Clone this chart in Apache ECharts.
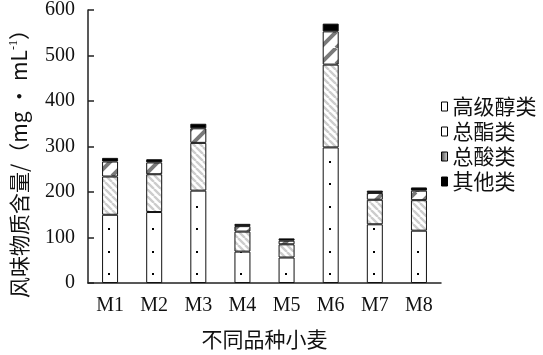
<!DOCTYPE html>
<html>
<head>
<meta charset="utf-8">
<script src="https://cdn.jsdelivr.net/npm/echarts@6/dist/echarts.min.js"></script>
<style>html,body{margin:0;padding:0;background:#fff}#c{width:543px;height:355px}</style>
</head>
<body>
<div id="c"></div>
<script>
const categories = ['M1','M2','M3','M4','M5','M6','M7','M8'];
const seriesNames = ['高级醇类','总酯类','总酸类','其他类'];
const alcohols = [150, 156, 203, 69, 56, 298, 129, 115];
const esters   = [84, 83, 105, 44, 29, 182, 54, 67];
const acids    = [33, 26, 32, 12, 8, 73, 15, 21];
const others   = [8, 7, 10, 5, 5, 17, 5, 7];
const yTicks = [0, 100, 200, 300, 400, 500, 600];

const W = 543, H = 355;
const GL = 87, GR = 102, GT = 10, GB = 69;
const serif = '"Liberation Serif","DejaVu Serif",serif';
const cjk = '"Noto Sans CJK SC","Liberation Serif",sans-serif';

// dot pattern (full-canvas, dots centred on each category)
function dotPattern() {
  const c = document.createElement('canvas'); c.width = W; c.height = H;
  const g = c.getContext('2d');
  g.fillStyle = '#fff'; g.fillRect(0, 0, W, H);
  g.fillStyle = '#000';
  const cw = (W - GL - GR) / categories.length;
  const base = H - GB;
  for (let i = 0; i < categories.length; i++) {
    const cx = GL + (i + 0.5) * cw;
    for (let k = 0; k < 14; k++) {
      const y = base - 12 - 22.4 * k;
      g.fillRect(Math.round(cx - 1.5), Math.round(y - 1), 2, 2);
    }
  }
  return {image: c, repeat: 'no-repeat'};
}
function stripePattern(size, lw, color, dir) {
  const c = document.createElement('canvas'); c.width = size; c.height = size;
  const g = c.getContext('2d');
  g.fillStyle = '#fff'; g.fillRect(0, 0, size, size);
  g.strokeStyle = color; g.lineWidth = lw;
  g.beginPath();
  for (let o = -size; o <= size; o += size) {
    if (dir === '\\') { g.moveTo(o, 0); g.lineTo(o + size, size); }
    else { g.moveTo(o, size); g.lineTo(o + size, 0); }
  }
  g.stroke();
  return {image: c, repeat: 'repeat'};
}

const fills = [
  dotPattern(),
  stripePattern(7, 2.4, '#cdcdcd', '\\'),
  stripePattern(16, 4, '#7a7a7a', '/'),
  '#000'
];
const values = [alcohols, esters, acids, others];

const chart = echarts.init(document.getElementById('c'), null, {renderer: 'canvas'});
chart.setOption({
  animation: false,
  backgroundColor: '#fff',
  grid: {left: GL, right: GR, top: GT, bottom: GB, containLabel: false},
  legend: {
    orient: 'vertical', left: 436, top: 91,
    itemWidth: 6, itemHeight: 9, itemGap: 4, icon: 'rect',
    textStyle: {fontFamily: cjk, fontSize: 21, color: '#111', lineHeight: 21},
    data: [
      {name: seriesNames[0], itemStyle: {color: '#fff', borderColor: '#000', borderWidth: 1}},
      {name: seriesNames[1], itemStyle: {color: '#fff', borderColor: '#000', borderWidth: 1}},
      {name: seriesNames[2], itemStyle: {color: {type: 'linear', x: 0, y: 0, x2: 1, y2: 0, colorStops: [{offset: 0, color: '#444'}, {offset: 1, color: '#ddd'}]}, borderColor: '#000', borderWidth: 1}},
      {name: seriesNames[3], itemStyle: {color: '#000', borderColor: '#000', borderWidth: 1}}
    ]
  },
  xAxis: {
    type: 'category', data: categories,
    name: '不同品种小麦', nameLocation: 'middle', nameGap: 46,
    nameTextStyle: {fontFamily: cjk, fontSize: 21, color: '#111'},
    axisLine: {lineStyle: {color: '#222', width: 1.5}},
    axisTick: {inside: true, length: 5, lineStyle: {color: '#222', width: 1.5}},
    axisLabel: {fontFamily: serif, fontSize: 20, color: '#111', margin: 13}
  },
  yAxis: {
    type: 'value', min: yTicks[0], max: yTicks[yTicks.length - 1], interval: 100,
    name: '风味物质含量/（mg • mL{sup|-1}）', nameLocation: 'middle', nameGap: 58,
    nameTextStyle: {fontFamily: cjk, fontSize: 21, color: '#111', padding: [0, 24, 0, 0],
      rich: {sup: {fontFamily: serif, fontSize: 12, verticalAlign: 'top', padding: [0, 0, 10, 0]}}},
    axisLine: {show: true, lineStyle: {color: '#222', width: 1.5}},
    axisTick: {show: true, inside: true, length: 6, lineStyle: {color: '#222', width: 1.5}},
    axisLabel: {fontFamily: serif, fontSize: 20, color: '#111', margin: 13},
    splitLine: {show: false}
  },
  series: seriesNames.map((n, i) => ({
    name: n, type: 'bar', stack: 'total', barWidth: 16,
    data: values[i],
    itemStyle: {color: fills[i], borderColor: '#111', borderWidth: 1}
  }))
});
</script>
</body>
</html>
